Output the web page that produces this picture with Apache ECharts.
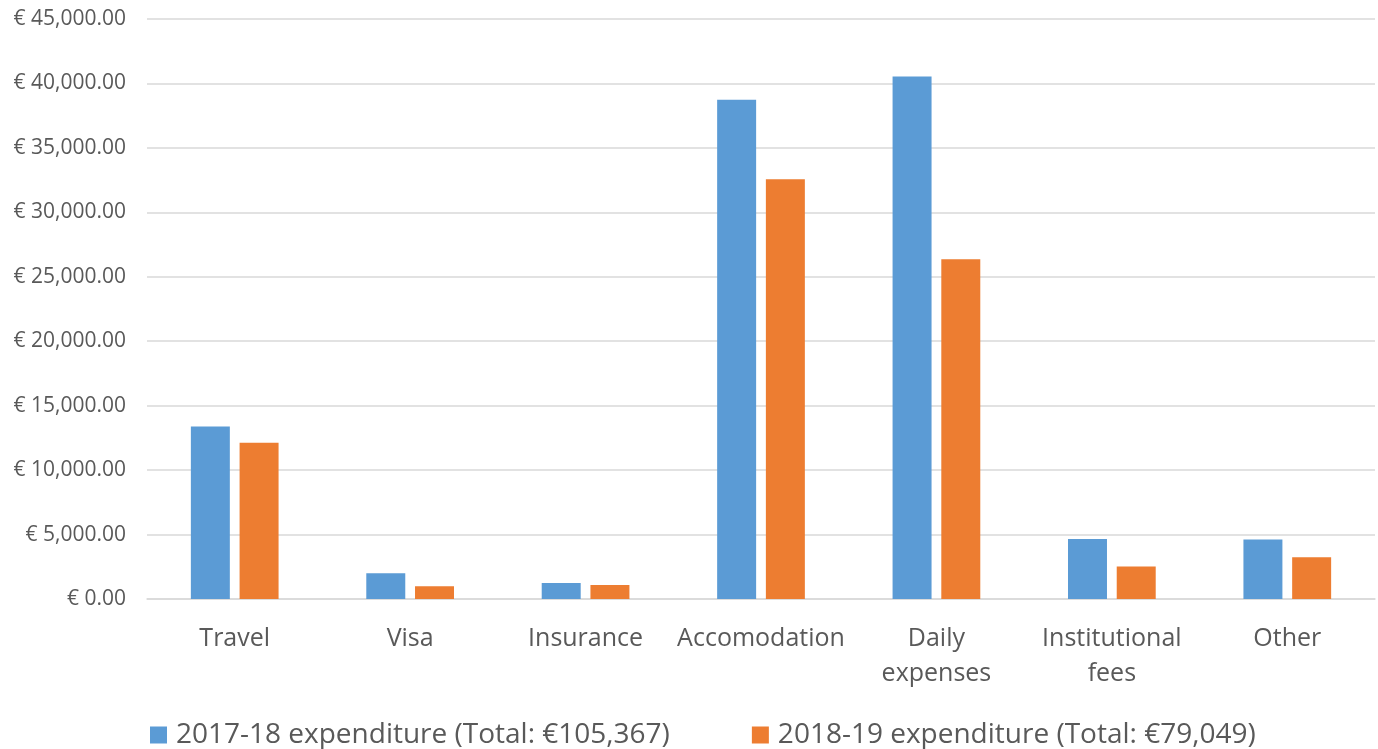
<!DOCTYPE html>
<html style="height: 100%">

<head>
  <meta charset="utf-8">
</head>

<body style="height: 100%; margin: 0">
  <div id="container" style="width: 1378px; height: 749px"></div>
  <script src="https://cdn.jsdelivr.net/npm/echarts@6/dist/echarts.min.js"></script>
  <script type="text/javascript">
    // categories and series values
    var categories = ['Travel', 'Visa', 'Insurance', 'Accomodation', 'Daily\nexpenses', 'Institutional\nfees', 'Other'];
    var seriesNames = ['2017-18 expenditure (Total: €105,367)', '2018-19 expenditure (Total: €79,049)'];
    var values1718 = [13390, 1990, 1240, 38740, 40540, 4650, 4620];
    var values1819 = [12120, 980, 1090, 32560, 26360, 2520, 3240];

    var colors = ['#5B9BD5', '#ED7D31'];
    var textColor = '#595959';
    var font = 'Open Sans';

    var dom = document.getElementById('container');
    var myChart = echarts.init(dom);

    function euro(v) {
      return '€ ' + v.toLocaleString('en-US', { minimumFractionDigits: 2, maximumFractionDigits: 2 });
    }

    var option = {
      animation: false,
      color: colors,
      grid: {
        left: 147,
        right: 3,
        top: 19,
        bottom: 150
      },
      legend: {
        data: seriesNames,
        left: 150,
        top: 721,
        padding: 0,
        icon: 'rect',
        itemWidth: 17,
        itemHeight: 17,
        itemGap: 82,
        selectedMode: false,
        textStyle: {
          color: textColor,
          fontFamily: font,
          fontSize: 28,
          padding: [0, 0, 0, 4]
        }
      },
      xAxis: {
        type: 'category',
        data: categories,
        axisTick: { show: false },
        axisLine: { lineStyle: { color: '#d9d9d9', width: 1.5 } },
        axisLabel: {
          color: textColor,
          fontFamily: font,
          fontSize: 25,
          lineHeight: 35,
          margin: 22,
          interval: 0
        }
      },
      yAxis: {
        type: 'value',
        min: 0,
        max: 45000,
        interval: 5000,
        axisLine: { show: false },
        axisTick: { show: false },
        splitLine: { lineStyle: { color: '#d9d9d9', width: 1.5 } },
        axisLabel: {
          color: textColor,
          fontFamily: font,
          fontSize: 21,
          margin: 21,
          formatter: euro
        }
      },
      series: [
        {
          name: seriesNames[0],
          type: 'bar',
          data: values1718,
          barGap: '25%',
          barCategoryGap: '50%'
        },
        {
          name: seriesNames[1],
          type: 'bar',
          data: values1819,
          barGap: '25%',
          barCategoryGap: '50%'
        }
      ]
    };

    myChart.setOption(option);
  </script>
</body>

</html>
